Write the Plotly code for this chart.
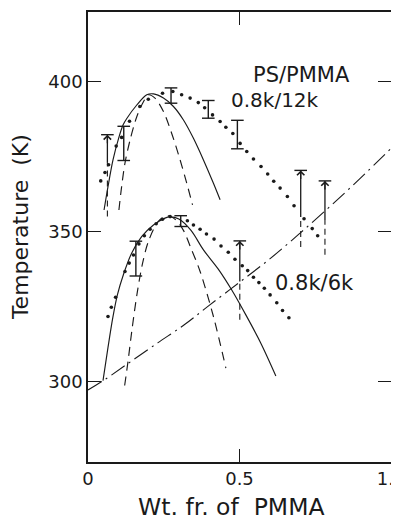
import plotly.graph_objects as go

# ---------------- data ----------------
up_dots_x = [0.042, 0.056, 0.068, 0.093, 0.111, 0.137, 0.171, 0.199, 0.246, 0.280,
             0.309, 0.337, 0.364, 0.385, 0.411, 0.436, 0.455, 0.478, 0.502, 0.524,
             0.546, 0.571, 0.593, 0.613, 0.634, 0.658, 0.680, 0.713, 0.740, 0.758]
up_dots_y = [367.0, 369.8, 372.4, 378.6, 381.5, 386.9, 391.8, 394.2, 396.2, 396.8,
             395.7, 394.6, 393.1, 391.4, 389.0, 386.8, 384.9, 382.8, 379.5, 376.8,
             374.3, 371.8, 369.3, 366.9, 364.6, 361.8, 358.7, 354.4, 351.1, 348.7]
up_bin_x = [0.053, 0.066, 0.0825, 0.101, 0.116, 0.128, 0.161, 0.194, 0.216, 0.249,
            0.282, 0.315, 0.348, 0.381, 0.414, 0.436]
up_bin_y = [357.3, 365.1, 374.0, 381.2, 385.7, 387.8, 392.3, 395.7, 396.0, 394.6,
            391.8, 387.3, 381.2, 374.0, 366.2, 360.7]
up_spi_x = [0.102, 0.111, 0.122, 0.139, 0.161, 0.183, 0.199, 0.221, 0.249, 0.276,
            0.304, 0.326, 0.345]
up_spi_y = [357.3, 365.1, 372.9, 380.7, 388.4, 393.4, 395.7, 394.6, 390.1, 382.9,
            374.0, 366.2, 359.0]

lo_dots_x = [0.066, 0.077, 0.091, 0.122, 0.136, 0.150, 0.168, 0.186, 0.205, 0.225,
             0.246, 0.271, 0.328, 0.348, 0.370, 0.391, 0.416, 0.439, 0.463, 0.485,
             0.509, 0.527, 0.546, 0.564, 0.582, 0.601, 0.623, 0.642, 0.663]
lo_dots_y = [321.8, 324.9, 328.2, 336.8, 339.6, 342.3, 346.0, 348.7, 350.9, 352.7,
             354.2, 355.1, 353.7, 352.3, 350.9, 349.3, 347.6, 345.3, 343.2, 340.9,
             338.7, 337.1, 334.9, 333.1, 331.2, 329.0, 326.4, 323.8, 321.4]
lo_bin_x = [0.0495, 0.066, 0.082, 0.097, 0.117, 0.144, 0.177, 0.216, 0.254, 0.270,
            0.300, 0.340, 0.381, 0.430, 0.474, 0.520, 0.570, 0.620]
lo_bin_y = [300.4, 311.5, 321.5, 329.0, 335.8, 342.9, 348.4, 352.3, 354.6, 355.0,
            354.3, 350.5, 344.0, 337.6, 330.7, 322.5, 313.0, 302.0]
lo_spi_x = [0.121, 0.132, 0.145, 0.163, 0.180, 0.200, 0.233, 0.262, 0.290, 0.315,
            0.340, 0.370, 0.414, 0.455]
lo_spi_y = [298.8, 306.8, 317.3, 330.1, 339.5, 347.0, 353.6, 355.4, 354.0, 350.5,
            344.5, 336.8, 321.8, 304.6]

tg_x = [0.0, 0.05, 0.13, 0.23, 0.32, 0.40, 0.50, 0.60, 0.70, 0.80, 0.90, 1.0]
tg_y = [297.3, 300.4, 306.0, 313.0, 319.2, 325.5, 333.2, 341.0, 349.6, 358.6, 368.0, 377.8]

ibar_x = [0.118, 0.274, 0.397, 0.493, 0.158, 0.306]
ibar_lo = [373.8, 392.9, 387.9, 377.7, 335.3, 351.8]
ibar_hi = [385.2, 398.0, 393.8, 387.2, 346.9, 355.4]

arr_x = [0.064, 0.702, 0.782, 0.501]
arr_top = [382.4, 370.5, 367.0, 347.0]
arr_mid = [373.0, 355.0, 354.0, 333.5]
arr_bot = [355.1, 345.0, 342.4, 320.7]

x_tickvals = [0, 0.5, 1.0]
x_ticktext = ["0", "0.5", "1.0"]
y_tickvals = [300, 350, 400]
y_ticktext = ["300", "350", "400"]

# ---------------- figure ----------------
INK = "#1a1a1a"
FONT = "DejaVu Sans"

fig = go.Figure()


def seg(xs, y0s, y1s):
    X, Y = [], []
    for x, a, b in zip(xs, y0s, y1s):
        X += [x, x, None]
        Y += [a, b, None]
    return X, Y


fig.add_trace(go.Scatter(x=tg_x, y=tg_y, mode="lines", line_shape="spline",
                         line=dict(color=INK, width=1.1, dash="16px,5px,2px,5px"),
                         hoverinfo="skip"))
for xs, ys in [(up_bin_x, up_bin_y), (lo_bin_x, lo_bin_y)]:
    fig.add_trace(go.Scatter(x=xs, y=ys, mode="lines", line_shape="spline",
                             line=dict(color=INK, width=1.15, smoothing=0.9),
                             hoverinfo="skip"))
for xs, ys in [(up_spi_x, up_spi_y), (lo_spi_x, lo_spi_y)]:
    fig.add_trace(go.Scatter(x=xs, y=ys, mode="lines", line_shape="spline",
                             line=dict(color=INK, width=1.15, dash="9px,6px", smoothing=0.9),
                             hoverinfo="skip"))
for xs, ys in [(up_dots_x, up_dots_y), (lo_dots_x, lo_dots_y)]:
    fig.add_trace(go.Scatter(x=xs, y=ys, mode="markers",
                             marker=dict(color=INK, size=3.6, line=dict(width=0)),
                             hoverinfo="skip"))
bx, by = seg(ibar_x, ibar_lo, ibar_hi)
fig.add_trace(go.Scatter(x=bx, y=by, mode="lines",
                         line=dict(color=INK, width=1.4), hoverinfo="skip"))
fig.add_trace(go.Scatter(x=ibar_x + ibar_x, y=ibar_lo + ibar_hi, mode="markers",
                         marker=dict(symbol="line-ew-open", size=9, color=INK,
                                     line=dict(color=INK, width=1.4)),
                         hoverinfo="skip"))
ax_, ay_ = seg(arr_x, arr_mid, arr_top)
fig.add_trace(go.Scatter(x=ax_, y=ay_, mode="lines",
                         line=dict(color=INK, width=1.3), hoverinfo="skip"))
dx_, dy_ = seg(arr_x, arr_bot, arr_mid)
fig.add_trace(go.Scatter(x=dx_, y=dy_, mode="lines",
                         line=dict(color=INK, width=1.1, dash="6px,4px"), hoverinfo="skip"))
fig.add_trace(go.Scatter(x=arr_x, y=arr_top, mode="markers",
                         marker=dict(symbol="line-ew-open", size=9, color=INK,
                                     line=dict(color=INK, width=1.4)),
                         hoverinfo="skip"))
for x, t in zip(arr_x, arr_top):
    fig.add_annotation(x=x, y=t, ax=0, ay=10, xref="x", yref="y", text="",
                       showarrow=True, arrowhead=4, arrowsize=1.1, arrowwidth=1.3,
                       arrowcolor=INK, standoff=0)

fig.add_annotation(x=0.706, y=402.3, text="PS/PMMA", showarrow=False,
                   font=dict(family=FONT, size=21, color=INK))
fig.add_annotation(x=0.617, y=394.0, text="0.8k/12k", showarrow=False,
                   font=dict(family=FONT, size=20, color=INK))
fig.add_annotation(x=0.746, y=333.0, text="0.8k/6k", showarrow=False,
                   font=dict(family=FONT, size=21, color=INK))
fig.add_annotation(xref="paper", yref="paper", x=0.5, xshift=-8, y=0, yshift=-45,
                   text="Wt. fr. of  PMMA", showarrow=False, yanchor="middle",
                   font=dict(family=FONT, size=23.5, color=INK))
fig.add_annotation(xref="paper", yref="paper", x=0, xshift=-68, y=0.522,
                   text="Temperature  (K)", textangle=-90, showarrow=False,
                   xanchor="center", font=dict(family=FONT, size=22, color=INK))

axis_common = dict(showline=True, linecolor=INK, linewidth=1.5, mirror="ticks",
                   ticks="inside", ticklen=13, tickwidth=1.4, tickcolor=INK,
                   showgrid=False, zeroline=False, automargin=False,
                   ticklabeloverflow="allow", layer="above traces",
                   tickfont=dict(family=FONT, size=18, color=INK))
fig.update_xaxes(range=[0, 1], tickvals=x_tickvals, ticktext=x_ticktext, **axis_common)
fig.update_yaxes(range=[273.3, 423.3], tickvals=y_tickvals, ticktext=y_ticktext, **axis_common)

# the page body adds an 8px offset, so the figure is 8px smaller and shifted
fig.update_layout(width=391, height=512, margin=dict(l=80, r=8, t=4, b=58),
                  paper_bgcolor="white", plot_bgcolor="white", showlegend=False)

fig.write_html("out.html")
